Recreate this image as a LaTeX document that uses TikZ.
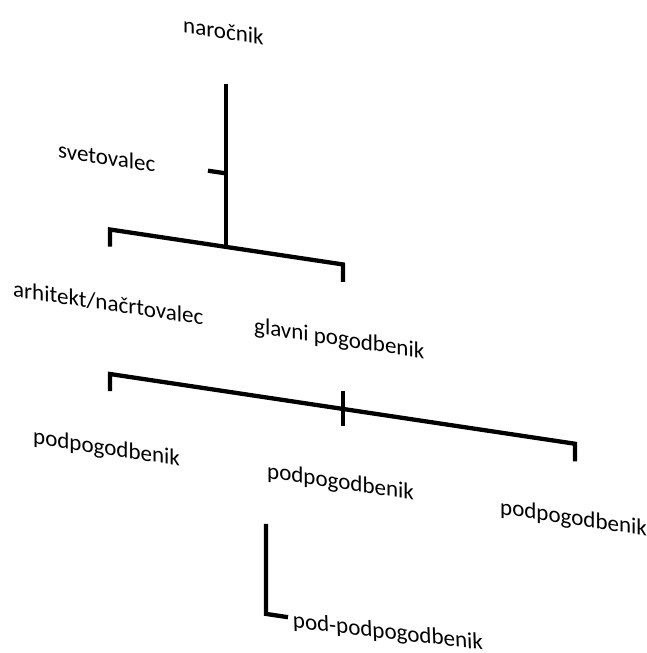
\documentclass[tikz,border=0pt]{standalone}
\usepackage{fontspec}
\setmainfont{Carlito}
\begin{document}
\begin{tikzpicture}[x=1pt,y=1pt,
  lbl/.style={anchor=base west, inner sep=0pt, font=\fontsize{23}{27}\selectfont},
  bar/.style={line width=4.3pt, line join=miter, line cap=butt}]
\useasboundingbox (0,0) rectangle (646,-653);
\begin{scope}[yslant=-0.15, transform shape]
  % labels
  \node[lbl] (client)  at (183,-5.5)  {naročnik};
  \node[lbl] (consult) at (58,-149)   {svetovalec};
  \node[lbl] (arch)    at (13,-294.5) {arhitekt/načrtovalec};
  \node[lbl] (main)    at (254,-295)  {glavni pogodbenik};
  \node[lbl] (subA)    at (33,-439)   {podpogodbenik};
  \node[lbl] (subB)    at (267,-438)  {podpogodbenik};
  \node[lbl] (subC)    at (500,-439)  {podpogodbenik};
  \node[lbl, rotate=2] (subsub) at (293,-584) {pod-podpogodbenik};

  % trunk from the client
  \coordinate (trunkTop) at (226,-50);
  \coordinate (trunkBot) at (226,-213);
  \coordinate (advL) at (208,-139.5);
  \coordinate (advR) at (226,-139.5);
  % first bracket
  \coordinate (b1L)  at (110,-213);
  \coordinate (b1Ld) at (110,-230);
  \coordinate (b1R)  at (343,-213);
  \coordinate (b1Rd) at (343,-230.5);
  % second bracket
  \coordinate (b2L)  at (110,-357.5);
  \coordinate (b2Ld) at (110,-374.5);
  \coordinate (b2R)  at (575,-357.5);
  \coordinate (b2Rd) at (575,-375);
  \coordinate (b2Tt) at (343,-339.5);
  \coordinate (b2Tb) at (343,-375);
  % sub-subcontractor hook
  \coordinate (hTop) at (266,-484);
  \coordinate (hCor) at (266,-574);
  \coordinate (hEnd) at (288,-574);

  \draw[bar] (trunkTop) -- (trunkBot);
  \draw[bar] (advL) -- (advR);
  \draw[bar] (b1Ld) -- (b1L) -- (b1R) -- (b1Rd);
  \draw[bar] (b2Ld) -- (b2L) -- (b2R) -- (b2Rd);
  \draw[bar] (b2Tt) -- (b2Tb);
  \draw[bar] (hTop) -- (hCor) -- (hEnd);
\end{scope}
\end{tikzpicture}
\end{document}
